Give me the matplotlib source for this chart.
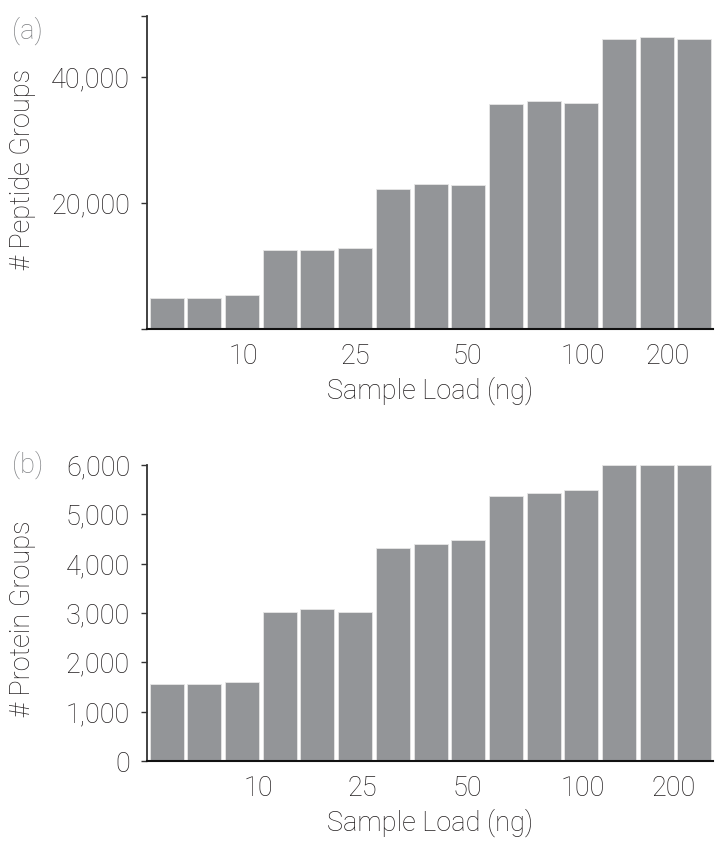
import matplotlib
matplotlib.use('Agg')
import matplotlib.pyplot as plt

# data, 3 replicates per sample load
peptide_groups = [4930, 4930, 5310, 12570, 12570, 12790, 22280, 23070, 22910,
                  35750, 36180, 35960, 46140, 46410, 46140]
protein_groups = [1555, 1555, 1608, 3014, 3081, 3014, 4311, 4405, 4480,
                  5365, 5426, 5493, 5990, 5990, 5990]
load_labels = ['10', '25', '50', '100', '200']

# where the load labels sit along the bars (as in the original figure)
label_pos_a = [2.03, 5.0, 7.98, 11.05, 13.3]
label_pos_b = [2.43, 5.18, 7.97, 11.05, 13.44]

plt.rcParams['font.family'] = ['Roboto', 'DejaVu Sans']
plt.rcParams['font.weight'] = 'light'
plt.rcParams['axes.labelweight'] = 'light'

bar_color = '#939598'
text_color = '#231f20'
fs = 19.5

fig = plt.figure(figsize=(7.19, 8.41), dpi=100)
ax1 = fig.add_axes([0.204, 0.609, 0.787, 0.372])
ax2 = fig.add_axes([0.204, 0.0951, 0.787, 0.352])


def style_axes(ax, values, ymax, yticks, yticklabels, label_pos, ylabel):
    x = list(range(len(values)))
    ax.bar(x, values, width=0.9, color=bar_color, edgecolor='#e6e6e6', linewidth=0.6)
    ax.set_xlim(-0.53, 14.48)
    ax.set_ylim(0, ymax)
    for s in ['top', 'right']:
        ax.spines[s].set_visible(False)
    ax.spines['left'].set_linewidth(1.3)
    ax.spines['left'].set_color('#333333')
    ax.spines['bottom'].set_linewidth(1.5)
    ax.spines['bottom'].set_color('#111111')
    ax.set_yticks(yticks)
    ax.set_yticklabels(yticklabels)
    ax.tick_params(axis='y', length=4, width=1.0, color='#333333', pad=8,
                   labelsize=fs, labelcolor=text_color)
    ax.set_xticks(label_pos)
    ax.set_xticklabels(load_labels)
    ax.tick_params(axis='x', length=0, pad=10, labelsize=fs, labelcolor=text_color)
    ax.set_xlabel('Sample Load (ng)', fontsize=fs, color=text_color,
                  fontweight='light', labelpad=5)
    ax.set_ylabel(ylabel, fontsize=fs, color=text_color, fontweight='light')


style_axes(ax1, peptide_groups, 49750, [0, 20000, 40000, 49750],
           ['', '20,000', '40,000', ''], label_pos_a, '# Peptide Groups')
style_axes(ax2, protein_groups, 6000, [0, 1000, 2000, 3000, 4000, 5000, 6000],
           ['0', '1,000', '2,000', '3,000', '4,000', '5,000', '6,000'],
           label_pos_b, '# Protein Groups')

ax1.yaxis.set_label_coords(-0.195, 0.51)
ax2.yaxis.set_label_coords(-0.195, 0.48)

fig.text(0.016, 0.98, '(a)', fontsize=fs, color='#808285', va='top')
fig.text(0.016, 0.464, '(b)', fontsize=fs, color='#808285', va='top')

fig.savefig('out.png', dpi=100)
plt.close(fig)
